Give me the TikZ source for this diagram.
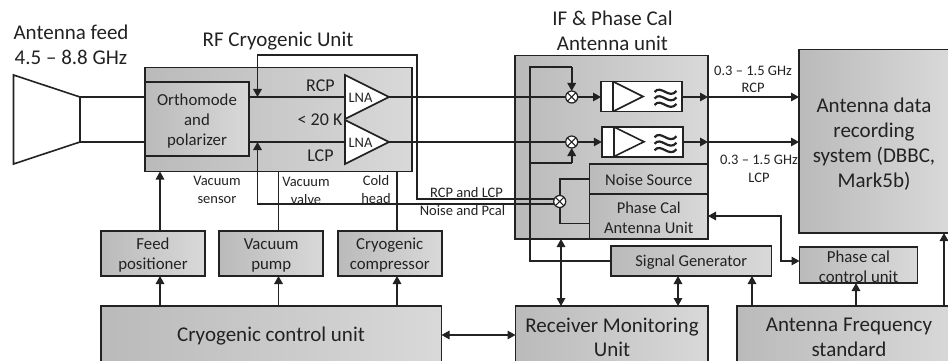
\documentclass[tikz,border=0pt]{standalone}
\usepackage{fontspec}
\setmainfont{Carlito}
\usetikzlibrary{arrows.meta,calc}
\definecolor{ink}{HTML}{222222}
\newcommand{\fs}[2]{\fontsize{#1pt}{#2pt}\selectfont}
\tikzset{
  x=1pt,y=-1pt,
  every node/.style={inner sep=0pt,outer sep=0pt},
  shadebox/.style={draw=ink,line width=1.6pt,left color=black!27,right color=black!15,shading angle=90,align=center,text=ink},
  blk/.style={shadebox},
  big/.style={shadebox},
  lab/.style={align=center,font=\fs{16.8}{20}},
  labm/.style={align=center,font=\fs{16.5}{20.5}},
  labb/.style={align=center,font=\fs{21}{24.5}},
  heading/.style={align=center,font=\fs{21}{25}},
  small/.style={align=center,font=\fs{14.5}{18}},
  tiny/.style={align=center,font=\fs{14.5}{17.5}},
  mix/.style={circle,draw=ink,line width=1.2pt,fill=white,minimum size=12pt,
    path picture={\draw[line width=1.1pt] (path picture bounding box.north west)--(path picture bounding box.south east)
      (path picture bounding box.north east)--(path picture bounding box.south west);}},
  filt/.style={draw=ink,line width=1.6pt,fill=white,minimum width=81pt,minimum height=30pt},
  arr/.style={-{Triangle[length=8pt,width=8.5pt]}},
  darr/.style={{Triangle[length=8pt,width=8.5pt]}-{Triangle[length=8pt,width=8.5pt]}},
}
\begin{document}
\begin{tikzpicture}[color=ink,line width=1.6pt]
\useasboundingbox (0,0) rectangle (948,361);
\clip (0,0) rectangle (948,361);

% headings
\node[heading] (hfeed) at (71,45) {Antenna feed\\4.5 – 8.8 GHz};
\node[heading] (hrf) at (278,41) {RF Cryogenic Unit};
\node[heading] (hif) at (612.5,31) {IF \& Phase Cal\\Antenna unit};

% horn
\coordinate (h1) at (13.5,75); \coordinate (h2) at (80,97); \coordinate (h3) at (80,142); \coordinate (h4) at (13.5,164);
\draw (h1)--(h2)--(h3)--(h4)--cycle;

% RF unit
\node[shadebox,minimum width=267pt,minimum height=104pt] (rf) at (278.5,119.5) {};
\node[blk,minimum width=104pt,minimum height=74pt] (omt) at (197,119) {};
\node[lab] (tomt) at (197,121) {Orthomode\\and\\polarizer};
\draw (h2)--(omt.west |- h2);
\draw (h3)--(omt.west |- h3);
\node[font=\fs{18}{20}] (rcp) at (320.5,85.5) {RCP};
\node[font=\fs{18}{20}] (k20) at (320,120) {< 20 K};
\node[font=\fs{18}{20}] (lcp) at (320.5,155.5) {LCP};

% LNAs
\coordinate (l1a) at (345,75); \coordinate (l1b) at (345,119); \coordinate (l1t) at (389,97);
\coordinate (l2a) at (345,120); \coordinate (l2b) at (345,164); \coordinate (l2t) at (389,142);
\draw[fill=white] (l1a)--(l1t)--(l1b)--cycle;
\draw[fill=white] (l2a)--(l2t)--(l2b)--cycle;
\node[font=\fs{14.5}{14}] (lna1) at (360.5,98) {LNA};
\node[font=\fs{14.5}{14}] (lna2) at (360.5,143) {LNA};
\draw (omt.east |- l1t)--(l1a |- l1t);
\draw (omt.east |- l2t)--(l2a |- l2t);

% small labels
\node[small] (lvs) at (217,190) {Vacuum\\sensor};
\node[small] (lvv) at (306,190.5) {Vacuum\\valve};
\node[small] (lch) at (376,190) {Cold\\head};
\node[tiny] (lrl) at (466.5,193) {RCP and LCP};
\node[tiny] (lnp) at (462.5,211) {Noise and Pcal};
\node[tiny] (lif1) at (753,79.5) {0.3 – 1.5 GHz\\RCP};
\node[tiny] (lif2) at (759,169) {0.3 – 1.5 GHz\\LCP};

% IF unit
\node[shadebox,minimum width=193pt,minimum height=183.5pt] (ifu) at (611.5,147.25) {};
\node[blk,minimum width=118.5pt,minimum height=30pt] (ns) at (648.75,179) {};
\node[labm] (tns) at (648.75,180) {Noise Source};
\node[blk,minimum width=118.5pt,minimum height=44.5pt] (pc) at (648.75,216.25) {};
\node[labm] (tpc) at (648.75,218) {Phase Cal\\Antenna Unit};
\node[mix] (m1) at (571.7,97) {};
\node[mix] (m2) at (571.7,142) {};
\node[mix] (m3) at (559.7,201.5) {};
\node[filt] (f1) at (641.5,96.5) {};
\node[filt] (f2) at (642.25,141.75) {};
\draw (613,81.5)--(613,111.5);
\draw (613,81.5)--(643,96.5)--(613,111.5);
\draw (614,127)--(614,156.5);
\draw (614,127)--(644,141.75)--(614,156.5);
\foreach \dy in {0,45.3}{
 \foreach \w in {92,98.5,105}{
  \draw[line width=2.2pt] (654.5,\w+\dy) .. controls (661,\w+\dy-8) and (669,\w+\dy+8) .. (676.5,\w+\dy-1);
 }}

% right blocks
\node[blk,minimum width=150pt,minimum height=183.5pt] (rec) at (874,141.25) {};
\node[align=center,font=\fs{21}{25}] (trec) at (874,144) {Antenna data\\recording\\system (DBBC,\\Mark5b)};
\node[blk,minimum width=118pt,minimum height=36pt] (pcc) at (858.5,265) {};
\node[lab] (tpcc) at (858.5,266.5) {Phase cal\\control unit};
\node[blk,minimum width=160.5pt,minimum height=30pt] (sg) at (691.25,261) {};
\node[labm] (tsg) at (691.25,262) {Signal Generator};

% lower blocks
\node[blk,minimum width=104pt,minimum height=45pt] (fp) at (153,253.5) {};
\node[lab] (tfp) at (153,255.5) {Feed\\positioner};
\node[blk,minimum width=104pt,minimum height=45pt] (vp) at (271.25,253.5) {};
\node[lab] (tvp) at (271.25,255.5) {Vacuum\\pump};
\node[blk,minimum width=104pt,minimum height=45pt] (cc) at (389.75,253.5) {};
\node[lab] (tcc) at (389.75,255.5) {Cryogenic\\compressor};
\node[big,minimum width=340.5pt,minimum height=70pt] (ccu) at (271.25,341) {};
\node[font=\fs{21}{24}] (tccu) at (271,336) {Cryogenic control unit};
\node[big,minimum width=192.5pt,minimum height=70pt] (rmu) at (611.75,341) {};
\node[labb] (trmu) at (612,337.5) {Receiver Monitoring\\Unit};
\node[big,minimum width=220pt,minimum height=70pt] (afs) at (847,341) {};
\node[labb] (tafs) at (849,337.5) {Antenna Frequency\\standard};

% RF to IF
\draw (l1t)--(m1);
\draw (l2t)--(m2);
\draw[arr] (m1)--(f1.west |- m1);
\draw[arr] (m2)--(f2.west |- m2);
\draw[arr] (f1.east |- m1)--(ifu.east |- m1);
\draw[arr] (f2.east |- m2)--(ifu.east |- m2);
\draw[arr] (ifu.east |- m1)--(rec.west |- m1);
\draw[arr] (ifu.east |- m2)--(rec.west |- m2);

% LO distribution
\coordinate (lotop) at (530,67);
\coordinate (lolow) at (530,163);
\draw (sg.west)-|(lotop)--(m1 |- lotop);
\draw[arr] (m1 |- lotop)--(m1.north);
\draw (lolow)--(m2 |- lolow);
\draw[arr] (m2 |- lolow)--(m2.south);

% noise coupling
\draw (ns.west)-|(m3.north);
\draw (pc.west |- 0,223.5)-|(m3.south);
\coordinate (up) at (417,198.8);
\coordinate (lo) at (257.5,204);
\draw[arr] (m3.west |- up)--(up)--(417,55)--(257.5,55)--(257.5,97);
\draw[arr] (m3.west |- lo)--(lo)--(257.5,142);

% lower connections
\draw[arr] (160,0 |- fp.north)--(160,0 |- rf.south);
\draw (278.5,0 |- vp.north)--(278.5,0 |- rf.south);
\draw (397,0 |- cc.north)--(397,0 |- rf.south);
\draw[arr] (160,0 |- ccu.north)--(160,0 |- fp.south);
\draw[arr] (278.5,0 |- ccu.north)--(278.5,0 |- vp.south);
\draw[arr] (397,0 |- ccu.north)--(397,0 |- cc.south);
\draw[darr] (ccu.east |- 0,335)--(rmu.west |- 0,335);
\draw[darr] (561,0 |- ifu.south)--(561,0 |- rmu.north);
\draw[darr] (678,0 |- sg.south)--(678,0 |- rmu.north);
\draw[arr] (752,0 |- afs.north)--(752,0 |- sg.south);
\draw[arr] (856,0 |- afs.north)--(856,0 |- pcc.south);
\draw[arr] (944,0 |- afs.north)--(944,0 |- rec.south);
\draw[darr] (pc.east |- 0,216)-|(781,261)--(pcc.west |- 0,261);
\end{tikzpicture}
\end{document}
